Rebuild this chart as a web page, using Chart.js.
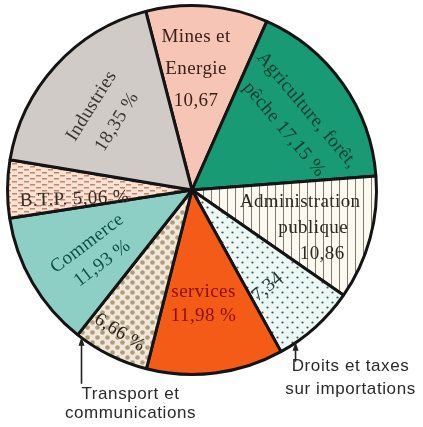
<!DOCTYPE html>
<html lang="fr">
<head>
  <meta charset="UTF-8">
  <title>Répartition du PIB par secteur</title>
  <script src="https://cdn.jsdelivr.net/npm/chart.js"></script>
  <style>
    body {
      margin: 0;
      padding: 0;
      background-color: #fff;
    }

    #pieChart {
      display: block;
    }
  </style>
</head>
<body>
  <canvas id="pieChart" width="423" height="427"></canvas>
  <script>
    // Sectors, clockwise from the top
    const sectors = [
      "Mines et Energie",
      "Agriculture, forêt, pêche",
      "Administration publique",
      "Droits et taxes sur importations",
      "services",
      "Transport et communications",
      "Commerce",
      "B.T.P.",
      "Industries"
    ];
    const shares = [10.67, 17.15, 10.86, 7.34, 11.98, 6.66, 11.93, 5.06, 18.35];

    // Text written inside each slice
    const sliceText = [
      ["Mines et", "Energie", "10,67"],
      ["Agriculture, forêt,", "pêche 17,15 %"],
      ["Administration", "publique", "10,86"],
      ["7,34"],
      ["services", "11,98 %"],
      ["6,66 %"],
      ["Commerce", "11,93 %"],
      ["B.T.P. 5,06 %"],
      ["Industries", "18,35 %"]
    ];

    // Slices too small for their name get an arrow and outside text
    const calloutText = {
      3: ["Droits et taxes", "sur importations"],
      5: ["Transport et", "communications"]
    };

    // label placement: radius, angle shift (deg), text rotation (deg), line gap, per-line x shift
    const labelPlace = [
      { r: 121, da: -2.8, rot: 0, gap: 32 },
      { r: 125, da: 1.1, rot: 50, gap: 30 },
      { r: 126, da: 2.3, rot: 0, gap: 26, shift: [-12, 1, 10] },
      { r: 123, da: 4.1, rot: -40, gap: 0 },
      { r: 115, da: 1.5, rot: 0, gap: 24 },
      { r: 160, da: 0.6, rot: 32, gap: 0 },
      { r: 116, da: -2.9, rot: -37, gap: 25 },
      { r: 118, da: -4.8, rot: -2, gap: 0 },
      { r: 116, da: -1.5, rot: -58, gap: 30 }
    ];
    const textColors = ["#3a2018", "#0d3a2b", "#2d2a22", "#1f3533", "#8b0d05", "#2b241c", "#0c4f48", "#3a2a22", "#3b3330"];

    const calloutPlace = {
      3: { da: 7.9, len: 19, dx: 55, dy: 24, gap: 23 },
      5: { da: 10.5, len: 46, dx: 49, dy: 57, gap: 19 }
    };

    function makePattern(w, h, bg, paint) {
      const c = document.createElement("canvas");
      c.width = w;
      c.height = h;
      const g = c.getContext("2d");
      g.fillStyle = bg;
      g.fillRect(0, 0, w, h);
      paint(g);
      return g.createPattern(c, "repeat");
    }

    function dot(g, x, y, r, color) {
      g.fillStyle = color;
      g.beginPath();
      g.arc(x, y, r, 0, Math.PI * 2);
      g.fill();
    }

    const hatchAdmin = makePattern(8, 8, "#fbf9f0", g => {
      g.fillStyle = "#7e796a";
      g.fillRect(3, 0, 1, 8);
    });
    const dotsDroits = makePattern(10, 10, "#edf8f5", g => {
      dot(g, 2.5, 2.5, 1.1, "#2f5d57");
      dot(g, 7.5, 7.5, 1.1, "#2f5d57");
    });
    const dotsTransport = makePattern(10, 10, "#f1e8d9", g => {
      dot(g, 2.5, 2.5, 2.3, "#ad9c7d");
      dot(g, 7.5, 7.5, 2.3, "#ad9c7d");
    });
    const dashesBtp = makePattern(12, 6, "#f7e4d9", g => {
      g.fillStyle = "#d4805c";
      g.fillRect(0, 1, 5, 1.5);
      g.fillRect(6, 4, 5, 1.5);
    });

    const fills = ["#f7c5b5", "#189a74", hatchAdmin, dotsDroits, "#f45b16", dotsTransport, "#8ecfc5", dashesBtp, "#d0cbc6"];

    const sliceLabels = {
      id: "sliceLabels",
      afterDatasetsDraw(chart) {
        const ctx = chart.ctx;
        const arcs = chart.getDatasetMeta(0).data;
        arcs.forEach((arc, i) => {
          const p = arc.getProps(["x", "y", "startAngle", "endAngle", "outerRadius"], true);
          const mid = (p.startAngle + p.endAngle) / 2;
          const place = labelPlace[i];
          const a = mid + place.da * Math.PI / 180;
          const lines = sliceText[i];

          ctx.save();
          ctx.translate(p.x + place.r * Math.cos(a), p.y + place.r * Math.sin(a));
          ctx.rotate(place.rot * Math.PI / 180);
          ctx.font = "19px 'Liberation Serif'";
          ctx.letterSpacing = "0.4px";
          ctx.fillStyle = textColors[i];
          ctx.textAlign = "center";
          ctx.textBaseline = "middle";
          lines.forEach((line, k) => {
            const y = (k - (lines.length - 1) / 2) * place.gap;
            const x = place.shift ? place.shift[k] : 0;
            ctx.fillText(line, x, y);
          });
          ctx.restore();

          // arrow from the rim down to the outside label
          const call = calloutPlace[i];
          if (call) {
            const ca = mid + call.da * Math.PI / 180;
            const tx = p.x + p.outerRadius * Math.cos(ca);
            const ty = p.y + p.outerRadius * Math.sin(ca);
            ctx.save();
            ctx.strokeStyle = "#222";
            ctx.fillStyle = "#222";
            ctx.lineWidth = 1.6;
            ctx.beginPath();
            ctx.moveTo(tx, ty + 4);
            ctx.lineTo(tx, ty + call.len);
            ctx.stroke();
            ctx.beginPath();
            ctx.moveTo(tx, ty - 1);
            ctx.lineTo(tx - 3, ty + 8);
            ctx.lineTo(tx + 3, ty + 8);
            ctx.closePath();
            ctx.fill();

            ctx.font = "17px 'Liberation Sans'";
            ctx.letterSpacing = "0.6px";
            ctx.fillStyle = "#2a2a2a";
            ctx.textAlign = "center";
            ctx.textBaseline = "middle";
            calloutText[i].forEach((line, k) => {
              ctx.fillText(line, tx + call.dx, ty + call.dy + k * call.gap);
            });
            ctx.restore();
          }
        });
      }
    };

    new Chart(document.getElementById("pieChart"), {
      type: "pie",
      data: {
        labels: sectors,
        datasets: [{
          data: shares,
          backgroundColor: fills,
          borderColor: "#141414",
          borderWidth: 3,
          hoverOffset: 0,
          offset: 0
        }]
      },
      options: {
        responsive: false,
        animation: false,
        rotation: -14.5,
        layout: {
          padding: { left: 6, top: 4, right: 45, bottom: 51 }
        },
        plugins: {
          legend: { display: false },
          tooltip: { enabled: false }
        }
      },
      plugins: [sliceLabels]
    });
  </script>
</body>
</html>
